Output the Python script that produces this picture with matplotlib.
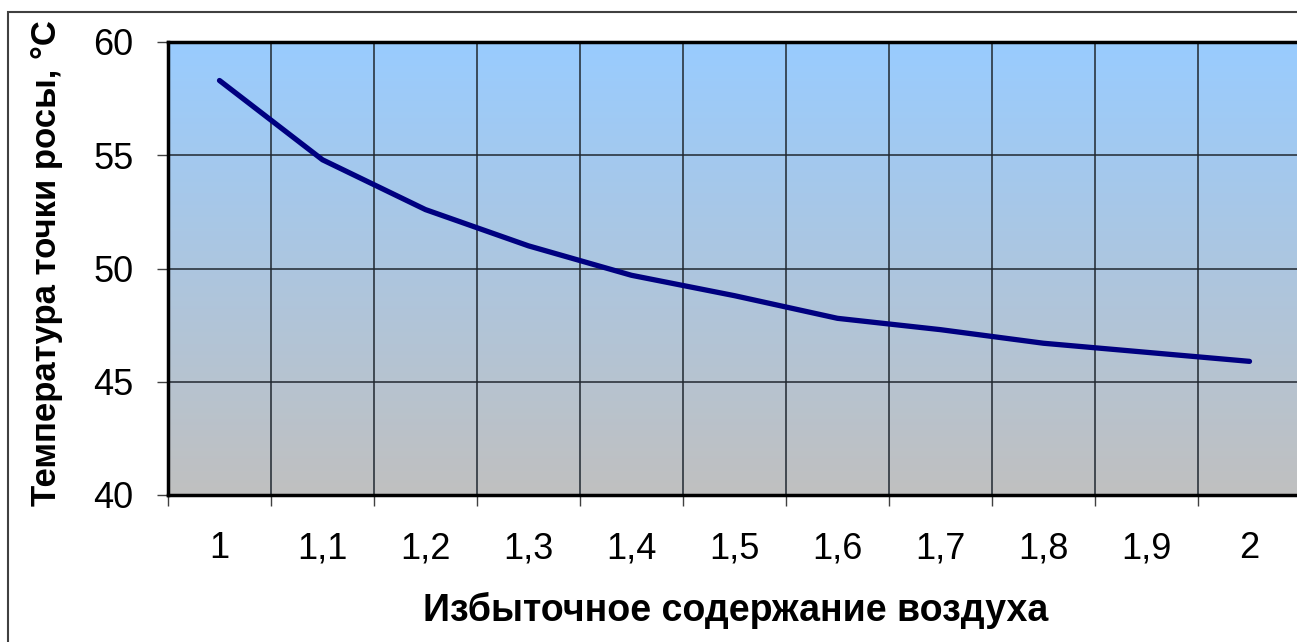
import numpy as np
import matplotlib
matplotlib.use("Agg")
import matplotlib.pyplot as plt
from matplotlib.colors import LinearSegmentedColormap
from matplotlib.patches import Rectangle

# data
categories = ["1", "1,1", "1,2", "1,3", "1,4", "1,5", "1,6", "1,7", "1,8", "1,9", "2"]
dew_point = [58.3, 54.8, 52.6, 51.0, 49.7, 48.8, 47.8, 47.3, 46.7, 46.3, 45.9]
y_ticks = [40, 45, 50, 55, 60]

x_label = "Избыточное содержание воздуха"
y_label = "Температура точки росы, °С"

plt.rcParams["font.family"] = ["Liberation Sans", "DejaVu Sans"]

fig = plt.figure(figsize=(12.97, 6.42), dpi=100, facecolor="white")

# outer chart frame (cut by the image edges on the right and bottom)
fig.patches.append(Rectangle((8 / 1297, -0.1), 1.2, 1 - 12 / 642 + 0.1,
                             transform=fig.transFigure, fill=False,
                             edgecolor="#404040", linewidth=1.5))

ax = fig.add_axes([168 / 1297, 1 - 495 / 642, 1133 / 1297, (495 - 42) / 642])
ax.set_facecolor("none")

# gradient background of the plot area
cmap = LinearSegmentedColormap.from_list("bg", ["#C0C0C0", "#99CCFF"])
grad = np.linspace(0, 1, 256).reshape(-1, 1)
ax.imshow(grad, cmap=cmap, aspect="auto", extent=[0, 1, 0, 1],
          transform=ax.transAxes, origin="lower", zorder=0)

x = np.arange(len(categories))
ax.plot(x, dew_point, color="#000080", linewidth=3.8, solid_capstyle="round",
        solid_joinstyle="round", zorder=3)

ax.set_xlim(-0.5, len(categories) - 0.5)
ax.set_ylim(40, 60)

ax.set_xticks(x)
ax.set_xticklabels(categories, fontsize=26)
ax.set_xticks(np.arange(len(categories) + 1) - 0.5, minor=True)
ax.tick_params(axis="x", which="major", length=0, pad=26)
ax.tick_params(axis="x", which="minor", length=8, width=1, color="#404040")

ax.set_yticks(y_ticks)
ax.set_yticklabels([str(v) for v in y_ticks], fontsize=26)
ax.tick_params(axis="y", which="major", length=8, width=1, color="#404040", pad=17)

ax.grid(True, axis="y", which="major", color="#202830", linewidth=1.1, zorder=1)
ax.grid(True, axis="x", which="minor", color="#202830", linewidth=1.1, zorder=1)

for side in ["left", "bottom", "top"]:
    ax.spines[side].set_linewidth(2.5)
    ax.spines[side].set_color("black")
ax.spines["right"].set_visible(False)

fig.text(736 / 1297, 1 - 610 / 642, x_label, fontsize=27, fontweight="bold",
         ha="center", va="center")
fig.text(47 / 1297, 1 - 263 / 642, y_label, rotation=90, fontsize=25,
         fontweight="bold", ha="center", va="center")

fig.savefig("out.png", dpi=100, facecolor="white")
